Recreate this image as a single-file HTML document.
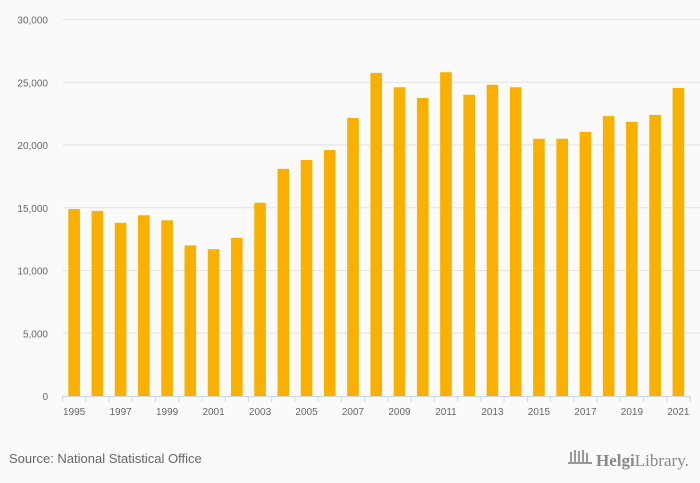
<!DOCTYPE html>
<html><head><meta charset="utf-8"><style>
html,body{margin:0;padding:0;background:#fafafa;}
svg{display:block;font-family:"Liberation Sans",sans-serif;}
</style></head><body>
<svg id="chart" width="700" height="483" viewBox="0 0 700 483">
<rect width="700" height="483" fill="#fafafa"/>
<g id="grid"></g>
<g id="yl"></g>
<g id="bars"></g>
<g id="xa"></g>
<text x="9" y="463" font-size="13" fill="#666">Source: National Statistical Office</text>
<g>
<g fill="#999"><rect x="570" y="452" width="2" height="10"/><rect x="574" y="450" width="2" height="12"/><rect x="578" y="451" width="2" height="11"/><rect x="582" y="450" width="2" height="12"/><rect x="586" y="453" width="2" height="9"/><rect x="568" y="462" width="24" height="2"/></g>
<text x="596" y="466" font-size="17" fill="#888" font-family="Liberation Serif,serif"><tspan font-weight="bold">Helgi</tspan>Library.</text>
</g>
</svg>
<script>
const years=["1995","1996","1997","1998","1999","2000","2001","2002","2003","2004","2005","2006","2007","2008","2009","2010","2011","2012","2013","2014","2015","2016","2017","2018","2019","2020","2021"];
const values=[14900,14750,13800,14400,14000,12000,11700,12600,15400,18100,18800,19600,22150,25750,24600,23750,25800,24000,24800,24600,20500,20500,21050,22300,21850,22400,24550];
const yTicks=[0,5000,10000,15000,20000,25000,30000];
const yTickLabels=["0","5,000","10,000","15,000","20,000","25,000","30,000"];
const NS="http://www.w3.org/2000/svg";
const x0=62.5,x1=690,y0=396,yTop=19.5,yMax=30000;
const band=(x1-x0)/years.length;
const y=v=>y0-(v/yMax)*(y0-yTop);
const xc=i=>x0+band*(i+0.5);
function mk(t,a,p){const e=document.createElementNS(NS,t);for(const k in a)e.setAttribute(k,a[k]);p.appendChild(e);return e;}
const grid=document.getElementById('grid'),yl=document.getElementById('yl'),bars=document.getElementById('bars'),xa=document.getElementById('xa');
yTicks.forEach((t,i)=>{
 if(t>0){const l=mk('line',{x1:x0,x2:700,y1:y(t),y2:y(t),stroke:'#e3e3e3','stroke-width':1},grid);
 
 }
 const tx=mk('text',{x:48,y:y(t)+4,'text-anchor':'end','font-size':10,fill:'#666'},yl);
 tx.textContent=yTickLabels[i];
 
 
});
values.forEach((v,i)=>{
 const r=mk('rect',{x:xc(i)-band/4,y:y(v),width:band/2,height:y0-y(v),fill:'#f9b000'},bars);
 
 
});
const ax=mk('line',{x1:x0,x2:x1,y1:y0+0.5,y2:y0+0.5,stroke:'#ccd6eb'},xa);


for(let i=0;i<=years.length;i++){
 const tk=mk('line',{x1:x0+band*i,x2:x0+band*i,y1:y0,y2:y0+6,stroke:'#ccd6eb'},xa);
 
 
}
years.forEach((yr,i)=>{if(i%2)return;
 const t=mk('text',{x:xc(i),y:y0+19,'text-anchor':'middle','font-size':10,fill:'#666'},xa);
 t.textContent=yr;
 
 
});
</script>
</body></html>
